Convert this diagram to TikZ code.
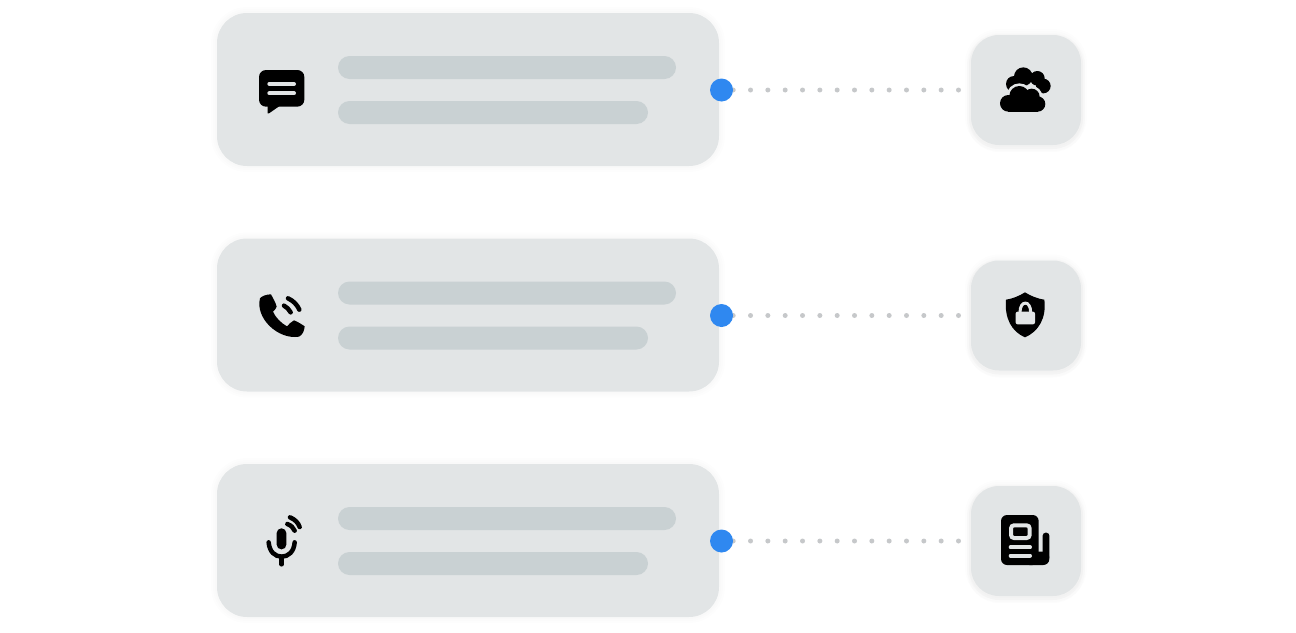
\documentclass[tikz,border=0pt]{standalone}
\usepackage{tikz}
\usetikzlibrary{backgrounds}
\definecolor{my_panel}{HTML}{E2E5E6}
\definecolor{my_bar}{HTML}{C9D1D3}
\definecolor{my_blue}{HTML}{2F88F0}
\definecolor{my_dots}{HTML}{C6C8CA}
\tikzset{
  softedge/.style = {preaction={draw=black, draw opacity=0.006, line width=12pt}, preaction={draw=black, draw opacity=0.007, line width=8pt}, preaction={draw=black, draw opacity=0.008, line width=4pt}},
  softdrop/.style = {preaction={draw=black, draw opacity=0.012, line width=8pt, transform canvas={yshift=-3pt}}, preaction={draw=black, draw opacity=0.015, line width=4pt, transform canvas={yshift=-2pt}}},
  cardnode/.style = {softedge, rectangle, draw=none, fill=my_panel, inner sep=0pt, minimum width=502pt, minimum height=153pt, rounded corners=30pt},
  tilenode/.style = {softdrop, softedge, rectangle, draw=none, fill=my_panel, inner sep=0pt, minimum width=110pt, minimum height=110pt, rounded corners=28pt},
  barnode/.style = {rectangle, draw=none, fill=my_bar, inner sep=0pt, minimum height=23pt, rounded corners=11.5pt},
  dotnode/.style = {circle, draw=none, fill=my_blue, inner sep=0pt, minimum size=23pt},
  dotline/.style = {my_dots, line width=5pt, line cap=round, dash pattern=on 0pt off 17.33pt, shorten >=12pt},
  gapline/.style = {my_panel, line width=4pt, line cap=round},
  waveline/.style = {black, line width=4.5pt, line cap=round},
  pics/chaticon/.style = {code={
    \fill[rounded corners=7pt] (42,30) rectangle (178,140);
    \fill (68,130) -- (68,160) -- (72,160) -- (108,135) -- cycle;
    \draw[gapline] (73,72) -- (147,72);
    \draw[gapline] (73,100) -- (147,100);
  }},
  pics/phoneicon/.style = {code={
    \fill (45,40) .. controls (50,33) and (65,28) .. (78,28) .. controls (84,40) and (92,52) .. (95,65) .. controls (93,72) and (88,76) .. (84,80) .. controls (92,98) and (108,114) .. (126,124) .. controls (132,118) and (138,110) .. (147,106) .. controls (158,110) and (170,118) .. (179,124) .. controls (178,138) and (172,150) .. (162,155) .. controls (100,165) and (30,100) .. (45,40) -- cycle;
    \draw[waveline] (129,40) .. controls (145,47) and (157,60) .. (163,74);
    \draw[waveline] (117,62) .. controls (125,66) and (132,73) .. (137,82);
  }},
  pics/micicon/.style = {code={
    \fill[rounded corners=4.7pt] (80,55) rectangle (109,118);
    \draw[waveline] (56,97) .. controls (58,125) and (75,140) .. (95,140) .. controls (115,140) and (132,125) .. (134,97);
    \draw[waveline] (95,140) -- (95,163);
    \draw[waveline] (112,42) .. controls (123,46) and (130,53) .. (134,62);
    \draw[waveline] (120,22) .. controls (135,28) and (145,39) .. (149,51);
  }},
  pics/cloudicon/.style = {code={
    \fill (100,50) circle (28) (142,55) circle (22) (160,78) circle (22) (72,72) circle (24);
    \fill[my_panel] (55,130) circle (33) (88,108) circle (38) (125,110) circle (32) (143,132) circle (31);
    \fill (55,130) circle (25) (88,108) circle (30) (125,110) circle (24) (143,132) circle (23);
    \fill (55,115) rectangle (143,155);
  }},
  pics/shieldicon/.style = {code={
    \fill (90,22) .. controls (105,32) and (130,42) .. (148,44) .. controls (155,100) and (130,140) .. (90,157) .. controls (50,140) and (28,100) .. (33,44) .. controls (50,42) and (75,32) .. (90,22) -- cycle;
    \fill[my_panel, rounded corners=2pt] (62,80) rectangle (120,118);
    \draw[my_panel, line width=3pt] (75,82) .. controls (75,45) and (107,45) .. (107,82);
  }},
  pics/newsicon/.style = {code={
    \fill[rounded corners=6pt] (33,15) rectangle (146,165);
    \fill[rounded corners=6pt] (100,125) rectangle (178,165);
    \fill[rounded corners=3pt] (158,68) rectangle (178,150);
    \draw[my_panel, line width=4pt, rounded corners=3pt] (63,46) rectangle (119,84);
    \draw[gapline] (62,112) -- (120,112);
    \draw[gapline] (62,137) -- (120,137);
  }}
}

\begin{document}
\begin{tikzpicture}[x=1pt,y=-1pt]
  \useasboundingbox (0,0) rectangle (1296,632);
  \foreach \row/\ypos/\icony/\lefticon/\leftx/\righticon/\rightx in {1/90/60/chaticon/245/cloudicon/990, 2/315.5/285/phoneicon/245/shieldicon/995, 3/541/510/micicon/250/newsicon/990}{
    \node [cardnode] (card\row) at (468,\ypos-0.5) {};
    \node [barnode, minimum width=338pt] (upper\row) at (507,\ypos-22.5) {};
    \node [barnode, minimum width=310pt] (lower\row) at (493,\ypos+22.5) {};
    \node [dotnode] (dot\row) at (721.5,\ypos) {};
    \node [tilenode] (tile\row) at (1026,\ypos) {};
    \begin{scope}[on background layer]
      \draw[dotline] (dot\row.east) -- (tile\row.west);
    \end{scope}
    \pic [scale=1/3] at (\leftx,\icony) {\lefticon};
    \pic [scale=1/3] at (\rightx,\icony) {\righticon};
  }
\end{tikzpicture}
\end{document}
